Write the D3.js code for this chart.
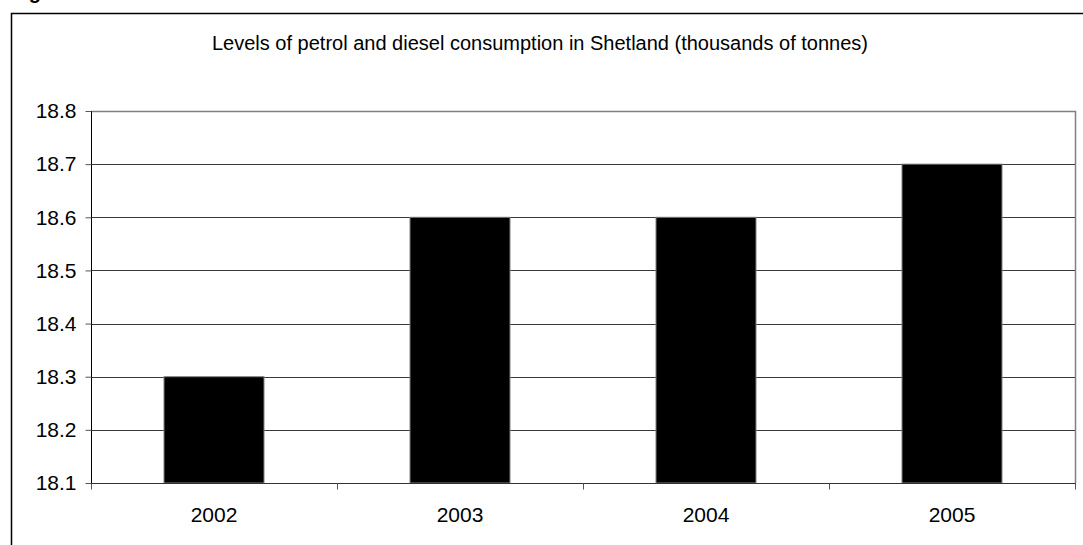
<!DOCTYPE html>
<html>
<head>
<meta charset="utf-8">
<script src="https://cdn.jsdelivr.net/npm/d3@7"></script>
<style>
  html, body { margin: 0; padding: 0; background: #fff; }
  svg { display: block; font-family: Arial, "Liberation Sans", sans-serif; }
</style>
</head>
<body>
<svg id="chart" width="1083" height="545"></svg>
<script>
// Petrol and diesel consumption in Shetland, thousands of tonnes
const years = ["2002", "2003", "2004", "2005"];
const consumption = [18.3, 18.6, 18.6, 18.7];
const yTicks = [18.1, 18.2, 18.3, 18.4, 18.5, 18.6, 18.7, 18.8];
const titleText = "Levels of petrol and diesel consumption in Shetland (thousands of tonnes)";

const svg = d3.select("#chart");
const W = 1083, H = 545;
const plot = { left: 91, right: 1075, top: 111, bottom: 483 };

// Figure caption sits just above the frame
svg.append("text")
  .attr("x", 11).attr("y", -1)
  .attr("font-size", 20).attr("font-weight", "bold")
  .text("Figure");

// Outer chart frame
svg.append("rect")
  .attr("x", 11.5).attr("y", 13.5)
  .attr("width", W + 20).attr("height", H + 20)
  .attr("fill", "#fff").attr("stroke", "#000").attr("stroke-width", 1.5);

svg.append("text")
  .attr("x", 540).attr("y", 50)
  .attr("text-anchor", "middle")
  .attr("font-size", 20)
  .attr("fill", "#000")
  .text(titleText);

const x = d3.scaleBand()
  .domain(years)
  .range([plot.left, plot.right])
  .paddingInner(0.5935)
  .paddingOuter(0.5935 / 2);

const y = d3.scaleLinear()
  .domain([18.1, 18.8])
  .range([plot.bottom, plot.top]);

// Plot area border (top and right in grey)
svg.append("path")
  .attr("d", `M${plot.left},${plot.top + 0.5}H${plot.right + 0.5}V${plot.bottom}`)
  .attr("fill", "none").attr("stroke", "#808080").attr("stroke-width", 1.5);

// Horizontal gridlines
svg.append("g")
  .selectAll("line")
  .data(yTicks.filter(t => t > 18.1 && t < 18.8))
  .join("line")
  .attr("x1", plot.left).attr("x2", plot.right)
  .attr("y1", d => Math.round(y(d)) + 0.5).attr("y2", d => Math.round(y(d)) + 0.5)
  .attr("stroke", "#3a3a3a").attr("stroke-width", 1);

// Bars
svg.append("g")
  .selectAll("rect")
  .data(years.map((yr, i) => ({ yr, v: consumption[i] })))
  .join("rect")
  .attr("x", d => x(d.yr))
  .attr("y", d => y(d.v))
  .attr("width", x.bandwidth())
  .attr("height", d => y(18.1) - y(d.v))
  .attr("fill", "#000")
  .attr("stroke", "#808080").attr("stroke-width", 1);

// Y axis
const yAxis = svg.append("g")
  .attr("transform", `translate(${plot.left + 0.5},0)`)
  .call(d3.axisLeft(y).tickValues(yTicks).tickFormat(d3.format(".1f")).tickSize(6).tickPadding(9));
yAxis.select(".domain").attr("stroke", "#000").attr("d", `M0,${plot.top}V${plot.bottom}`);
yAxis.selectAll(".tick line").attr("stroke", "#555");
yAxis.selectAll("text").attr("font-size", 21).attr("fill", "#000")
  .attr("font-family", "Arial, 'Liberation Sans', sans-serif");

// X axis: ticks at category boundaries
const xAxis = svg.append("g")
  .attr("transform", `translate(0,${plot.bottom + 0.5})`);
xAxis.append("line")
  .attr("x1", plot.left).attr("x2", plot.right + 1)
  .attr("stroke", "#333");
const boundaries = years.map(yr => x(yr) - (x.step() - x.bandwidth()) / 2)
  .concat([plot.right]);
xAxis.selectAll("line.tk")
  .data(boundaries)
  .join("line").attr("class", "tk")
  .attr("x1", d => Math.round(d) + 0.5).attr("x2", d => Math.round(d) + 0.5)
  .attr("y1", 0).attr("y2", 6)
  .attr("stroke", "#555");
xAxis.selectAll("text")
  .data(years)
  .join("text")
  .attr("x", d => x(d) + x.bandwidth() / 2)
  .attr("y", 38)
  .attr("text-anchor", "middle")
  .attr("font-size", 21)
  .text(d => d);
</script>
</body>
</html>
